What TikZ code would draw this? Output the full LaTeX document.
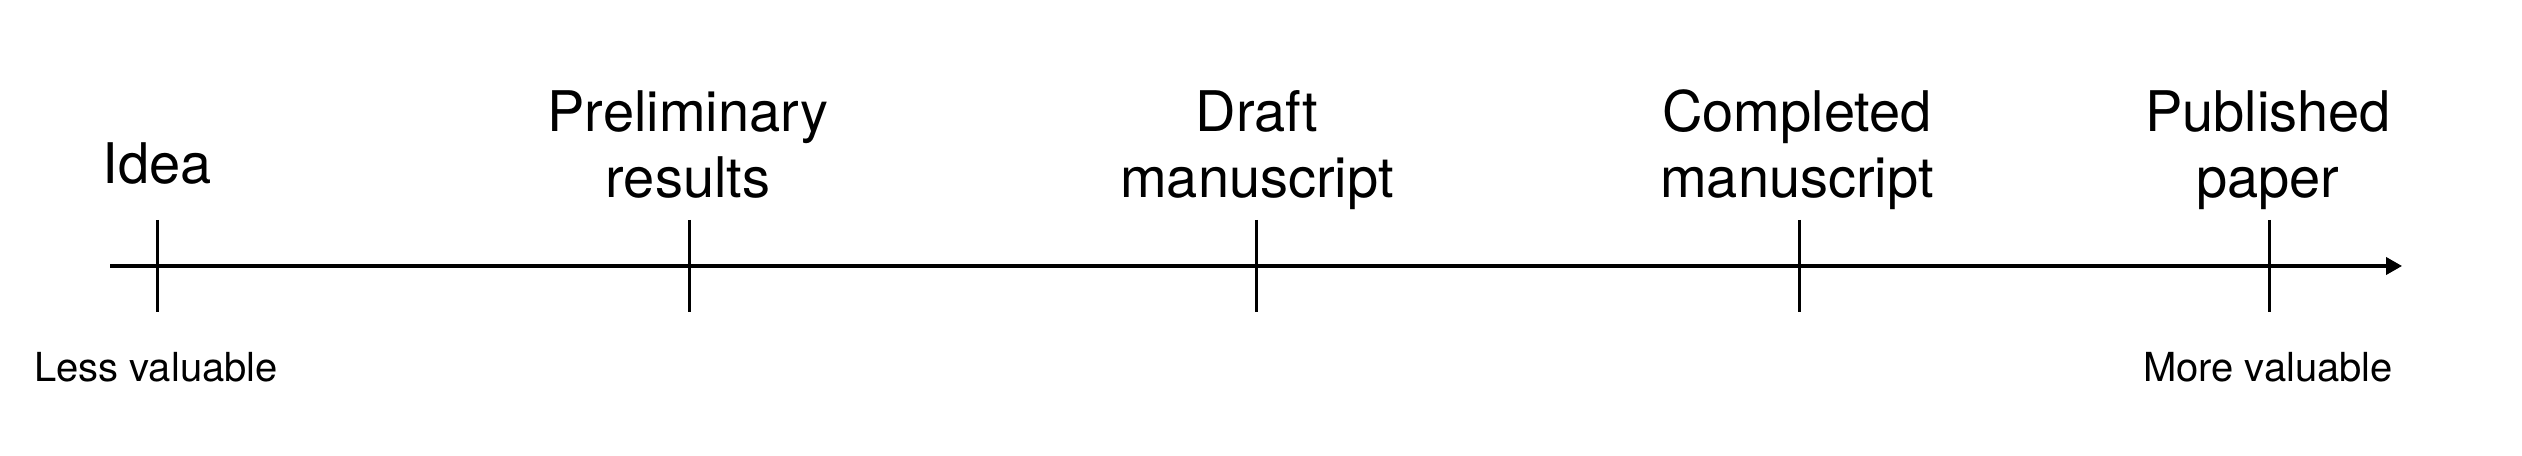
\documentclass[tikz,border=0pt]{standalone}
\usepackage{fontspec}
\setmainfont{TeX Gyre Heros}
\usetikzlibrary{arrows.meta}
\tikzset{
  big/.style={font=\fontsize{14}{16.5}\selectfont, inner sep=0pt, align=center, anchor=base},
  small/.style={font=\fontsize{10}{12}\selectfont, inner sep=0pt, anchor=base},
  axisline/.style={line width=0.8pt, -{Triangle[length=4pt,width=4.3pt]}},
  tickline/.style={line width=0.75pt}
}
\begin{document}
\begin{tikzpicture}[x=0.25pt,y=-0.25pt]
\useasboundingbox (0,0) rectangle (2522,456);
\coordinate (axs) at (110,266);
\coordinate (axe) at (2402,266);
\draw[axisline] (axs) -- (axe);
\foreach \n/\x in {a/157,b/689,c/1256,d/1799,e/2269}{
  \coordinate (\n top) at (\x,220);
  \coordinate (\n bot) at (\x,312);
  \draw[tickline] (\n top) -- (\n bot);
}
\node[big] (idea) at (157,184) {Idea};
\node[big] (prelim) at (688,198) {Preliminary\\results};
\node[big] (draft) at (1257,198) {Draft\\manuscript};
\node[big] (compl) at (1797,198) {Completed\\manuscript};
\node[big] (publ) at (2268,198) {Published\\paper};
\node[small] (less) at (156,382) {Less valuable};
\node[small] (more) at (2268,382) {More valuable};
\end{tikzpicture}
\end{document}
